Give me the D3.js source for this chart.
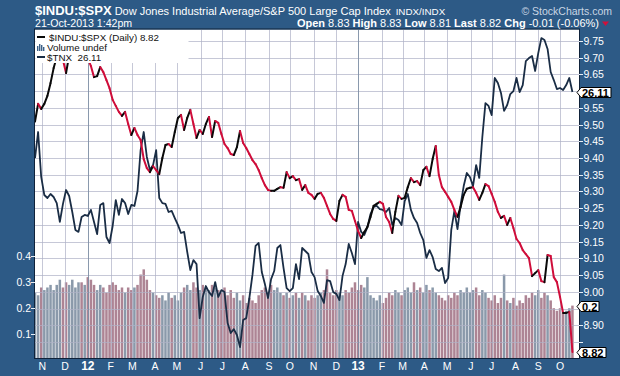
<!DOCTYPE html>
<html><head><meta charset="utf-8">
<script src="https://cdn.jsdelivr.net/npm/d3@7"></script>
<style>
html,body{margin:0;padding:0;background:#2d5a86;}
svg{display:block;}
text{font-family:"Liberation Sans",Arial,sans-serif;}
</style></head><body>
<svg id="chart" width="620" height="376"></svg>
<script>
// ---------- data (one sample every 3 trading days, 21-Oct-2011 .. 21-Oct-2013) ----------
const startDate = "2011-10-21";
const endDate = "2013-10-21";
const sampleStep = 3;

const ratioValues = [9.509,9.562,9.547,9.562,9.586,9.624,9.669,9.702,9.723,9.693,
 9.654,9.708,9.732,9.735,9.744,9.729,9.735,9.699,9.675,9.642,
 9.645,9.672,9.657,9.633,9.609,9.574,9.556,9.538,9.526,9.538,
 9.502,9.469,9.490,9.469,9.454,9.397,9.370,9.358,9.376,9.364,
 9.352,9.400,9.439,9.442,9.433,9.478,9.520,9.529,9.484,9.520,
 9.544,9.502,9.460,9.484,9.472,9.502,9.523,9.463,9.511,9.505,
 9.472,9.442,9.430,9.412,9.409,9.433,9.481,9.445,9.430,9.412,
 9.394,9.382,9.364,9.340,9.319,9.305,9.302,9.302,9.308,9.313,
 9.311,9.358,9.340,9.346,9.334,9.337,9.305,9.319,9.296,9.290,
 9.278,9.293,9.296,9.281,9.257,9.233,9.218,9.212,9.272,9.290,
 9.284,9.245,9.242,9.212,9.182,9.161,9.179,9.194,9.224,9.257,
 9.263,9.269,9.263,9.224,9.209,9.176,9.239,9.287,9.278,9.281,
 9.313,9.340,9.328,9.331,9.319,9.364,9.374,9.346,9.397,9.436,
 9.349,9.313,9.299,9.284,9.269,9.245,9.224,9.254,9.290,9.308,
 9.311,9.313,9.296,9.275,9.296,9.322,9.316,9.293,9.269,9.239,
 9.221,9.227,9.200,9.221,9.191,9.158,9.146,9.125,9.113,9.101,
 9.047,9.056,9.065,9.032,9.029,9.110,9.107,9.044,9.029,8.985,
 8.937,8.937,8.940,8.820];

const tnxValues = [22.19,23.66,21.18,20.26,20.11,20.31,20.16,19.86,18.96,19.82,
 20.51,20.21,19.43,18.59,18.50,19.19,19.29,19.24,19.53,18.96,
 18.40,19.77,19.86,18.27,18.00,18.77,20.01,19.29,20.06,19.86,
 19.33,19.77,19.72,20.46,22.63,23.66,22.25,21.55,21.81,22.63,
 20.11,19.86,19.82,19.43,19.48,19.14,18.82,18.45,18.50,17.61,
 16.84,17.26,17.09,14.96,15.76,16.19,15.95,15.80,16.35,15.76,
 16.03,15.95,14.78,14.42,14.56,14.35,13.93,14.89,14.96,15.72,
 16.64,17.87,18.00,16.76,16.27,15.72,16.47,16.80,17.78,17.91,
 16.93,16.11,15.99,16.11,17.09,16.47,17.78,17.65,17.52,16.76,
 16.55,15.99,15.80,15.53,16.43,16.39,15.95,15.88,15.64,16.60,
 17.09,17.96,17.56,17.09,18.96,18.50,18.36,18.72,19.33,19.67,
 19.72,19.57,19.53,19.43,19.62,18.82,19.14,19.05,18.82,19.96,
 20.31,19.53,19.14,18.91,18.45,18.13,17.35,17.69,17.39,16.88,
 16.80,16.93,16.31,16.51,18.59,19.48,18.63,19.77,20.71,21.39,
 21.18,20.71,21.81,21.13,23.37,25.41,25.23,24.67,27.03,26.70,
 26.05,24.92,25.29,25.98,26.17,27.03,26.11,26.56,28.18,28.39,
 28.53,27.50,28.74,29.82,29.68,29.03,27.43,26.89,26.30,26.37,
 26.24,26.56,27.03,26.11];

const volumeValues = [0.26,0.25,0.28,0.27,0.28,0.29,0.27,0.29,0.31,0.28,
 0.30,0.29,0.31,0.28,0.30,0.30,0.29,0.32,0.31,0.29,
 0.27,0.29,0.28,0.26,0.29,0.30,0.29,0.27,0.28,0.26,
 0.28,0.27,0.28,0.29,0.33,0.35,0.31,0.27,0.26,0.25,
 0.24,0.25,0.23,0.26,0.24,0.25,0.23,0.26,0.28,0.29,
 0.27,0.30,0.28,0.27,0.29,0.28,0.27,0.29,0.28,0.27,
 0.26,0.28,0.25,0.27,0.24,0.26,0.23,0.25,0.22,0.24,
 0.23,0.22,0.25,0.27,0.28,0.26,0.29,0.27,0.28,0.26,
 0.25,0.26,0.24,0.25,0.26,0.24,0.26,0.25,0.23,0.25,
 0.24,0.25,0.26,0.27,0.35,0.26,0.25,0.27,0.26,0.25,
 0.27,0.26,0.28,0.30,0.27,0.29,0.28,0.32,0.25,0.24,
 0.23,0.25,0.22,0.24,0.26,0.25,0.27,0.26,0.25,0.27,
 0.28,0.26,0.30,0.27,0.28,0.26,0.29,0.27,0.28,0.26,
 0.25,0.24,0.23,0.25,0.24,0.26,0.25,0.27,0.26,0.28,
 0.26,0.27,0.28,0.25,0.27,0.26,0.24,0.23,0.25,0.22,
 0.24,0.33,0.23,0.22,0.24,0.21,0.23,0.22,0.25,0.24,
 0.26,0.25,0.27,0.24,0.26,0.25,0.23,0.20,0.19,0.20,
 0.18,0.19,0.20,0.21];

const priceTicks = [8.85,8.90,8.95,9.00,9.05,9.10,9.15,9.20,9.25,9.30,9.35,9.40,9.45,9.50,9.55,9.60,9.65,9.70,9.75];
const volumeTicks = [0.1,0.2,0.3,0.4];
const monthLetters = ["J","F","M","A","M","J","J","A","S","O","N","D"];

const headerTitle = "$INDU:$SPX";
const headerName = "Dow Jones Industrial Average/S&P 500 Large Cap Index";
const headerExch = "INDX/INDX";
const headerCredit = "\u00A9 StockCharts.com";
const headerDate = "21-Oct-2013 1:42pm";
const quote = [["Open","8.83"],["High","8.83"],["Low","8.81"],["Last","8.82"],["Chg","-0.01 (-0.06%)"]];
const legendItems = ["$INDU:$SPX (Daily) 8.82","Volume undef","$TNX  26.11"];

// ---------- layout ----------
const svg = d3.select("#chart");
const L = 35, R = 579, T = 29.5, B = 358;
const BG = "#2d5a86", RED = "#cf0d3a", BLK = "#0a0a0a", NAVY = "#1a2d45";
const PINK = "#ad8494", GREY = "#8a99aa";

const tradingDays = d3.timeDay.range(new Date(startDate+"T00:00"), d3.timeDay.offset(new Date(endDate+"T00:00"),1))
  .filter(d => d.getDay() !== 0 && d.getDay() !== 6);
const x = d3.scaleLinear().domain([0, tradingDays.length-1]).range([L, 574.5]);
const yP = d3.scaleLinear().domain([8.85, 9.75]).range([342, 41]);
const yT = d3.scaleLog().domain([13.56, 30.42]).range([B, 30]);
const yV = d3.scaleLinear().domain([0, 0.4]).range([360, 256.4]);

const idx = ratioValues.map((_, k) => k*sampleStep);

svg.append("rect").attr("width",620).attr("height",376).attr("fill",BG);
svg.append("rect").attr("x",L).attr("y",T).attr("width",R-L).attr("height",B-T).attr("fill","#ffffff");

svg.append("defs").append("clipPath").attr("id","plotclip")
  .append("rect").attr("x",L).attr("y",T).attr("width",R-L).attr("height",B-T);
const plot = svg.append("g").attr("clip-path","url(#plotclip)");

// volume bars
const bw = x(sampleStep) - x(0);
plot.append("g").selectAll("rect").data(volumeValues).join("rect")
  .attr("x",(d,k)=>x(idx[k]) - bw/2 + 0.3)
  .attr("width", bw - 0.6)
  .attr("y", d => yV(d))
  .attr("height", d => B - yV(d))
  .attr("fill",(d,k)=> (k>0 && ratioValues[k] < ratioValues[k-1]) ? PINK : GREY);

// grid
const months = [];
tradingDays.forEach((d,i)=>{ if(i>0 && d.getMonth() !== tradingDays[i-1].getMonth()) months.push({i, d}); });
plot.append("g").selectAll("line").data(priceTicks).join("line")
  .attr("x1",L).attr("x2",R).attr("y1",d=>Math.round(yP(d))+0.5).attr("y2",d=>Math.round(yP(d))+0.5)
  .attr("stroke","#aeb0c6").attr("stroke-opacity",0.7);
plot.append("g").selectAll("line").data(months).join("line")
  .attr("x1",m=>Math.round(x(m.i))+0.5).attr("x2",m=>Math.round(x(m.i))+0.5).attr("y1",T).attr("y2",B)
  .attr("stroke",m=>m.d.getMonth()===0 ? "#7d8ea4" : "#aeb0c6").attr("stroke-opacity",m=>m.d.getMonth()===0?0.9:0.7);

// TNX line
plot.append("path").datum(tnxValues)
  .attr("d", d3.line().x((d,k)=>x(idx[k])).y(d=>yT(d)))
  .attr("fill","none").attr("stroke",NAVY).attr("stroke-width",1.8).attr("stroke-linejoin","round");

// price line coloured by direction
const segs = ratioValues.slice(1).map((v,j)=>({a:ratioValues[j], b:v, k:j}));
plot.append("g").selectAll("line").data(segs).join("line")
  .attr("x1",s=>x(idx[s.k])).attr("y1",s=>yP(s.a))
  .attr("x2",s=>x(idx[s.k+1])).attr("y2",s=>yP(s.b))
  .attr("stroke",s=> s.b < s.a ? RED : BLK).attr("stroke-width",2).attr("stroke-linecap","round");

// legend
const lg = svg.append("g");
lg.append("rect").attr("x",L+0.5).attr("y",T+0.5).attr("width",153).attr("height",33).attr("fill","#fff");
lg.append("line").attr("x1",37).attr("x2",45).attr("y1",37).attr("y2",37).attr("stroke",BLK).attr("stroke-width",2);
lg.append("line").attr("x1",37).attr("x2",45).attr("y1",57).attr("y2",57).attr("stroke",NAVY).attr("stroke-width",2);
[0,1,2,3].forEach(j=>lg.append("rect").attr("x",37+j*2).attr("y",[46,44,45,47][j]).attr("width",1.4).attr("height",[5,7,6,4][j]).attr("fill","#3b5f86"));
legendItems.forEach((t,j)=>{
  lg.append("text").attr("x",j===0?49:47).attr("y",[40.5,50.8,60.5][j]).text(t)
    .attr("font-family","'DejaVu Sans Mono',monospace").attr("font-size",9.8).attr("fill","#111")
    .style("white-space","pre").attr("xml:space","preserve");
});

// plot border
svg.append("rect").attr("x",L-0.5).attr("y",T-0.5).attr("width",R-L+1).attr("height",B-T+1)
  .attr("fill","none").attr("stroke","#0f223a").attr("stroke-width",1);

// last-value markers (computed first so covered axis labels are skipped)
const markers = [
  {y: Math.round(yT(tnxValues[tnxValues.length-1]))+0.5, label: d3.format(".2f")(tnxValues[tnxValues.length-1]), w: 30},
  {y: Math.round(yV(volumeValues[volumeValues.length-1]))+0.5, label: d3.format(".1f")(volumeValues[volumeValues.length-1]), w: 18},
  {y: Math.round(yP(ratioValues[ratioValues.length-1]))+0.5, label: d3.format(".2f")(ratioValues[ratioValues.length-1]), w: 25}
];

// right axis
const ra = svg.append("g");
priceTicks.forEach(p=>{
  const yy = Math.round(yP(p))+0.5;
  ra.append("line").attr("x1",R).attr("x2",583).attr("y1",yy).attr("y2",yy).attr("stroke","#e8eef5");
  if (markers.some(m => Math.abs(m.y - yy) < 11)) return;
  ra.append("text").attr("x",583.5).attr("y",yy+3.6).text(d3.format(".2f")(p)).attr("fill","#fff").attr("font-size",10.5);
});
// left axis
volumeTicks.forEach(v=>{
  const yy = Math.round(yV(v))+0.5;
  svg.append("line").attr("x1",31).attr("x2",L).attr("y1",yy).attr("y2",yy).attr("stroke","#e8eef5");
  svg.append("text").attr("x",31).attr("y",yy+3.6).attr("text-anchor","end").text(d3.format(".1f")(v)).attr("fill","#fff").attr("font-size",10.5);
});
// bottom axis
months.forEach(m=>{
  const isYear = m.d.getMonth()===0;
  svg.append("text").attr("x",x(m.i)).attr("y",369.5).attr("text-anchor","middle")
    .text(isYear ? d3.timeFormat("%y")(m.d) : monthLetters[m.d.getMonth()])
    .attr("fill","#fff").attr("font-size",isYear?12:10.5).attr("font-weight",isYear?"bold":"normal");
});

markers.forEach(mk=>{
  const yy = mk.y, w = mk.w;
  const g = svg.append("g");
  g.append("path").attr("d",`M${577},${yy} L${581},${yy-5} L${581+w},${yy-5} L${581+w},${yy+5} L${581},${yy+5} Z`)
    .attr("fill","#fff").attr("stroke","#000").attr("stroke-width",1);
  g.append("text").attr("x",582).attr("y",yy+4).text(mk.label).attr("font-weight","bold").attr("font-size",11).attr("fill","#000");
});

// header
const h1 = svg.append("text").attr("x",35).attr("y",15).attr("fill","#fff");
h1.append("tspan").text(headerTitle).attr("font-weight","bold").attr("font-size",13);
h1.append("tspan").text(" "+headerName).attr("font-size",11);
h1.append("tspan").text(headerExch).attr("font-size",9.8).attr("dx",5);
svg.append("text").attr("x",612).attr("y",15).attr("text-anchor","end").text(headerCredit)
  .attr("fill","#c9d6e4").attr("font-size",10.5);
svg.append("text").attr("x",35).attr("y",26.5).text(headerDate).attr("fill","#fff").attr("font-size",10.6);
const h2 = svg.append("text").attr("x",599).attr("y",26.5).attr("text-anchor","end").attr("fill","#fff").attr("font-size",11);
quote.forEach((q,j)=>{
  h2.append("tspan").text((j?"  ":"")+q[0]).attr("font-weight","bold");
  h2.append("tspan").text(" "+q[1]);
});
svg.append("path").attr("d","M602,21.5 L609,21.5 L605.5,26 Z").attr("fill","#d0103a");
</script>
</body></html>
